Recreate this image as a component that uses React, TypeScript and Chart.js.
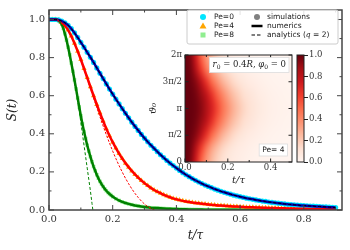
import React, { useEffect, useRef } from 'react';
import { Chart, registerables } from 'chart.js';

Chart.register(...registerables);

// ---------- main panel data ----------
const T = [0,0.01,0.02,0.03,0.04,0.05,0.06,0.07,0.08,0.09,0.1,0.11,0.12,0.13,0.14,0.15,0.16,0.17,0.18,0.19,0.2,0.21,0.22,0.23,0.24,0.25,0.26,0.27,0.28,0.29,0.3,0.31,0.32,0.33,0.34,0.35,0.36,0.37,0.38,0.39,0.4,0.41,0.42,0.43,0.44,0.45,0.46,0.47,0.48,0.49,0.5,0.51,0.52,0.53,0.54,0.55,0.56,0.57,0.58,0.59,0.6,0.61,0.62,0.63,0.64,0.65,0.66,0.67,0.68,0.69,0.7,0.71,0.72,0.73,0.74,0.75,0.76,0.77,0.78,0.79,0.8,0.81,0.82,0.83,0.84,0.85,0.86,0.87,0.88,0.89,0.9];

const PE0 = [1,1,1,0.998,0.992,0.983,0.97,0.952,0.93,0.906,
  0.88,0.855,0.828,0.802,0.775,0.746,0.718,0.69,0.662,0.635,
  0.608,0.582,0.557,0.532,0.508,0.484,0.461,0.439,0.418,0.397,
  0.377,0.358,0.34,0.323,0.306,0.29,0.275,0.26,0.246,0.233,
  0.22,0.208,0.196,0.185,0.175,0.165,0.156,0.147,0.139,0.131,
  0.124,0.117,0.11,0.104,0.098,0.093,0.088,0.083,0.078,0.074,
  0.07,0.066,0.062,0.059,0.056,0.053,0.05,0.047,0.045,0.042,
  0.04,0.038,0.036,0.034,0.032,0.03,0.029,0.027,0.026,0.024,
  0.023,0.022,0.021,0.02,0.019,0.018,0.017,0.016,0.015,0.014,
  0.013];

const PE4 = [1,1,1,0.996,0.985,0.968,0.945,0.913,0.875,0.834,
  0.79,0.743,0.695,0.647,0.6,0.554,0.51,0.467,0.427,0.39,
  0.356,0.325,0.296,0.27,0.246,0.225,0.205,0.187,0.17,0.155,
  0.141,0.128,0.116,0.105,0.096,0.088,0.08,0.073,0.067,0.061,
  0.056,0.052,0.048,0.045,0.042,0.039,0.037,0.035,0.033,0.031,
  0.029,0.027,0.026,0.024,0.023,0.022,0.021,0.02,0.019,0.018,
  0.017,0.016,0.015,0.0145,0.014,0.013,0.0125,0.012,0.0115,0.011,
  0.0105,0.01,0.0095,0.009,0.0086,0.0082,0.0078,0.0074,0.007,0.0067,
  0.0064,0.0061,0.0058,0.0055,0.0052,0.005,0.0048,0.0046,0.0044,0.0042,
  0.004];

const T8 = [0,0.005,0.01,0.015,0.02,0.025,0.03,0.035,0.04,0.045,0.05,0.055,0.06,0.065,0.07,0.075,0.08,0.085,0.09,0.095,0.1,0.105,0.11,0.115,0.12,0.125,0.13,0.135,0.14,0.145,0.15,0.155,0.16,0.165,0.17,0.175,0.18,0.185,0.19,0.195,0.2,
  0.21,0.22,0.23,0.24,0.25,0.26,0.27,0.28,0.29,0.3,0.31,0.32,0.33,0.34,0.35,0.36,0.37,0.38,0.39,0.4,0.41,0.42,0.43,0.44,0.45,0.46,0.47,0.48,0.49,0.5,0.51,0.52,0.53,0.54,0.55,0.56,0.57,0.58,0.59,0.6,0.61,0.62,0.63,0.64,0.65,0.66,0.67,0.68,0.69,0.7,0.71,0.72,0.73,0.74,0.75,0.76,0.77,0.78,0.79,0.8,0.81,0.82,0.83,0.84,0.85,0.86,0.87,0.88,0.89,0.9];

const PE8 = [1,1,1,1,1,0.999,0.995,0.987,0.975,0.954,0.925,0.892,0.855,0.815,0.772,0.728,0.683,0.636,0.588,0.541,0.495,0.452,0.412,0.375,0.34,0.309,0.28,0.253,0.228,0.206,0.185,0.167,0.15,0.136,0.123,0.111,0.101,0.092,0.084,0.077,0.07,
  0.059,0.05,0.043,0.037,0.032,0.028,0.024,0.021,0.018,0.016,
  0.014,0.012,0.011,0.01,0.009,0.008,0.007,0.0063,0.0056,0.005,
  0.0045,0.004,0.0036,0.0032,0.0029,0.0026,0.0023,0.0021,0.0019,0.0017,
  0.0015,0.0014,0.0012,0.0011,0.001,0.0009,0.0008,0.0007,0.0007,0.0006,
  0.0005,0.0005,0.0004,0.0004,0.0004,0.0003,0.0003,0.0003,0.0003,0.0002,
  0.0002,0.0002,0.0002,0.0002,0.0002,0.0002,0.0002,0.0002,0.0002,0.0002,
  0.0001,0.0001,0.0001,0.0001,0.0001,0.0001,0.0001,0.0001,0.0001,0.0001];

// analytics (q = 2): Pe=4 on T[0..34], Pe=8 on T8[0..28]
const DASH4 = [1,1,1,0.996,0.985,0.968,0.944,0.912,0.873,0.831,
  0.786,0.738,0.688,0.638,0.588,0.538,0.489,0.441,0.395,0.351,
  0.309,0.27,0.233,0.199,0.167,0.138,0.111,0.087,0.066,0.047,
  0.031,0.018,0.008,0.001,-0.005];
const DASH8 = [1,1,1,1,1,0.999,0.995,0.987,0.975,0.954,0.925,0.891,0.853,0.812,0.768,0.722,0.674,0.624,0.573,0.518,0.46,0.4,0.34,0.28,0.22,0.16,0.1,0.035,-0.03];

const X_TICKS = [0, 0.2, 0.4, 0.6, 0.8];
const X_MINOR = [0.1, 0.3, 0.5, 0.7, 0.9];
const Y_TICKS = [0, 0.2, 0.4, 0.6, 0.8, 1.0];
const Y_MINOR = [0.1, 0.3, 0.5, 0.7, 0.9];

const LEGEND_PE = ['Pe=0', 'Pe=4', 'Pe=8'];
const LEGEND_KIND = ['simulations', 'numerics', 'analytics ('];

// ---------- inset heat map data ----------
const HEAT_T = [0,0.025,0.05,0.075,0.1,0.125,0.15,0.175,0.2,0.225,0.25,0.275,0.3,0.325,0.35,0.375,0.4,0.425,0.45,0.475,0.5];
const HEAT_0   = [1.0,0.95,0.74,0.52,0.36,0.25,0.17,0.12,0.085,0.06,0.045,0.033,0.024,0.018,0.013,0.01,0.007,0.005,0.004,0.003,0.002];
const HEAT_PI4 = [1.0,0.97,0.82,0.62,0.45,0.32,0.23,0.16,0.115,0.08,0.06,0.045,0.033,0.025,0.018,0.013,0.01,0.008,0.006,0.004,0.003];
const HEAT_PI2 = [1.0,0.99,0.93,0.80,0.65,0.50,0.38,0.28,0.21,0.15,0.11,0.08,0.06,0.045,0.033,0.025,0.018,0.013,0.01,0.008,0.006];
const HEAT_3PI4= [1.0,1.0,0.97,0.90,0.79,0.66,0.53,0.42,0.32,0.24,0.18,0.13,0.10,0.075,0.055,0.04,0.03,0.022,0.016,0.012,0.009];
const HEAT_PI  = [1.0,1.0,0.98,0.93,0.84,0.72,0.60,0.48,0.38,0.29,0.22,0.16,0.12,0.09,0.065,0.05,0.035,0.027,0.02,0.015,0.01];
const HEAT_ROWS = [HEAT_0, HEAT_PI4, HEAT_PI2, HEAT_3PI4, HEAT_PI, HEAT_3PI4, HEAT_PI2, HEAT_PI4, HEAT_0];
const PI = Math.PI;
const HEAT_THETA = [0, PI/4, PI/2, 3*PI/4, PI, 5*PI/4, 3*PI/2, 7*PI/4, 2*PI];
const INSET_X_TICKS = [0, 0.2, 0.4];
const INSET_X_MINOR = [0.1, 0.3];
const INSET_Y_TICKS = [0, PI/2, PI, 3*PI/2, 2*PI];
const INSET_Y_LABELS = ['0', 'π/2', 'π', '3π/2', '2π'];
const CB_TICKS = [0, 0.2, 0.4, 0.6, 0.8, 1.0];

const REDS = [[255,245,240],[254,224,210],[252,187,161],[252,146,114],[251,106,74],[239,59,44],[203,24,29],[165,15,21],[103,0,13]];
function reds(v: number): number[] {
  const x = Math.min(1, Math.max(0, v)) * (REDS.length - 1);
  const i = Math.min(REDS.length - 2, Math.floor(x));
  const f = x - i;
  const a = REDS[i], b = REDS[i + 1];
  return [0, 1, 2].map(k => Math.round(a[k] + (b[k] - a[k]) * f));
}

const pts = (xs: number[], ys: number[]) => ys.map((y, i) => ({ x: xs[i], y }));

function framePlugin(id: string, cfg: any) {
  return {
    id,
    afterDatasetsDraw(chart: any) {
      const { ctx, chartArea: ca, scales } = chart;
      const xs = scales.x, ys = scales.y;
      ctx.save();
      ctx.strokeStyle = cfg.color;
      ctx.lineWidth = 1;
      ctx.beginPath();
      const vx = (vals: number[], len: number) => {
        for (const v of vals) {
          const p = xs.getPixelForValue(v);
          ctx.moveTo(p, ca.bottom); ctx.lineTo(p, ca.bottom - len);
          ctx.moveTo(p, ca.top); ctx.lineTo(p, ca.top + len);
        }
      };
      const vy = (vals: number[], len: number) => {
        for (const v of vals) {
          const p = ys.getPixelForValue(v);
          ctx.moveTo(ca.left, p); ctx.lineTo(ca.left + len, p);
          ctx.moveTo(ca.right, p); ctx.lineTo(ca.right - len, p);
        }
      };
      vx(cfg.xMajor, cfg.major); vx(cfg.xMinor, cfg.minor);
      vy(cfg.yMajor, cfg.major); vy(cfg.yMinor, cfg.minor);
      ctx.stroke();
      ctx.lineWidth = cfg.border;
      ctx.strokeRect(ca.left, ca.top, ca.right - ca.left, ca.bottom - ca.top);
      ctx.restore();
    },
  };
}

const legendPlugin = {
  id: 'legendBox',
  afterDraw(chart: any) {
    const ctx = chart.ctx;
    ctx.save();
    const bx = 187, by = 10, bw = 151, bh = 34, r = 2;
    ctx.beginPath();
    ctx.moveTo(bx + r, by); ctx.lineTo(bx + bw - r, by); ctx.quadraticCurveTo(bx + bw, by, bx + bw, by + r);
    ctx.lineTo(bx + bw, by + bh - r); ctx.quadraticCurveTo(bx + bw, by + bh, bx + bw - r, by + bh);
    ctx.lineTo(bx + r, by + bh); ctx.quadraticCurveTo(bx, by + bh, bx, by + bh - r);
    ctx.lineTo(bx, by + r); ctx.quadraticCurveTo(bx, by, bx + r, by);
    ctx.closePath();
    ctx.fillStyle = 'rgba(255,255,255,0.85)';
    ctx.fill();
    ctx.strokeStyle = '#cccccc'; ctx.lineWidth = 1; ctx.stroke();
    const rows = [17, 26, 35];
    ctx.fillStyle = '#00e5ff';
    ctx.beginPath(); ctx.arc(203, rows[0], 3, 0, 2 * Math.PI); ctx.fill();
    ctx.fillStyle = '#ffa500';
    ctx.beginPath(); ctx.moveTo(203, rows[1] - 3.5); ctx.lineTo(206.5, rows[1] + 2.5); ctx.lineTo(199.5, rows[1] + 2.5); ctx.closePath(); ctx.fill();
    ctx.fillStyle = '#90ee90';
    ctx.fillRect(200.5, rows[2] - 2.5, 5, 5);
    ctx.fillStyle = '#808080';
    ctx.beginPath(); ctx.arc(257, rows[0], 3, 0, 2 * Math.PI); ctx.fill();
    ctx.strokeStyle = '#000'; ctx.lineWidth = 2.5;
    ctx.beginPath(); ctx.moveTo(251.5, rows[1]); ctx.lineTo(262.5, rows[1]); ctx.stroke();
    ctx.lineWidth = 1.2; ctx.setLineDash([3.5, 2]);
    ctx.beginPath(); ctx.moveTo(251.5, rows[2]); ctx.lineTo(262.5, rows[2]); ctx.stroke();
    ctx.setLineDash([]);
    ctx.fillStyle = '#222';
    ctx.textBaseline = 'middle';
    ctx.textAlign = 'left';
    const sans = '7.5px "DejaVu Sans"';
    ctx.font = sans;
    LEGEND_PE.forEach((t, i) => ctx.fillText(t, 214, rows[i]));
    ctx.fillText(LEGEND_KIND[0], 267, rows[0]);
    ctx.fillText(LEGEND_KIND[1], 267, rows[1]);
    let x = 267;
    ctx.fillText(LEGEND_KIND[2], x, rows[2]);
    x += ctx.measureText(LEGEND_KIND[2]).width;
    ctx.font = 'italic 7.5px "DejaVu Serif"';
    ctx.fillText('q', x, rows[2]);
    x += ctx.measureText('q').width;
    ctx.font = sans;
    ctx.fillText(' = 2)', x, rows[2]);
    ctx.restore();
  },
};

const heatPlugin = {
  id: 'heat',
  beforeDatasetsDraw(chart: any) {
    const { ctx, chartArea: ca, scales } = chart;
    const nx = HEAT_T.length, ny = HEAT_THETA.length;
    const off = document.createElement('canvas');
    off.width = nx; off.height = ny;
    const octx = off.getContext('2d')!;
    const img = octx.createImageData(nx, ny);
    for (let j = 0; j < ny; j++) {
      const row = HEAT_ROWS[j];
      const iy = ny - 1 - j;
      for (let i = 0; i < nx; i++) {
        const c = reds(row[i]);
        const k = (iy * nx + i) * 4;
        img.data[k] = c[0]; img.data[k + 1] = c[1]; img.data[k + 2] = c[2]; img.data[k + 3] = 255;
      }
    }
    octx.putImageData(img, 0, 0);
    const dx = (HEAT_T[1] - HEAT_T[0]) / 2;
    const dy = (HEAT_THETA[1] - HEAT_THETA[0]) / 2;
    const x0 = scales.x.getPixelForValue(HEAT_T[0] - dx);
    const x1 = scales.x.getPixelForValue(HEAT_T[nx - 1] + dx);
    const y0 = scales.y.getPixelForValue(HEAT_THETA[ny - 1] + dy);
    const y1 = scales.y.getPixelForValue(HEAT_THETA[0] - dy);
    ctx.save();
    ctx.beginPath(); ctx.rect(ca.left, ca.top, ca.right - ca.left, ca.bottom - ca.top); ctx.clip();
    ctx.imageSmoothingEnabled = true;
    (ctx as any).imageSmoothingQuality = 'high';
    ctx.drawImage(off, x0, y0, x1 - x0, y1 - y0);
    ctx.restore();
  },
  afterDraw(chart: any) {
    const { ctx, chartArea: ca } = chart;
    ctx.save();
    const segs = [
      { t: 'r', f: 'italic 8.5px "DejaVu Serif"', dy: 0 },
      { t: '0', f: '6px "DejaVu Serif"', dy: 2 },
      { t: ' = 0.4', f: '8.5px "DejaVu Serif"', dy: 0 },
      { t: 'R', f: 'italic 8.5px "DejaVu Serif"', dy: 0 },
      { t: ', ', f: '8.5px "DejaVu Serif"', dy: 0 },
      { t: 'φ', f: 'italic 8.5px "DejaVu Serif"', dy: 0 },
      { t: '0', f: '6px "DejaVu Serif"', dy: 2 },
      { t: ' = 0', f: '8.5px "DejaVu Serif"', dy: 0 },
    ];
    let tw = 0;
    for (const s of segs) { ctx.font = s.f; tw += ctx.measureText(s.t).width; }
    const bw = tw + 6, bh = 15;
    const bx = ca.right - 3 - bw, by = ca.top + 2.5;
    ctx.fillStyle = '#fff';
    ctx.fillRect(bx, by, bw, bh);
    ctx.strokeStyle = '#dddddd'; ctx.lineWidth = 0.8; ctx.strokeRect(bx, by, bw, bh);
    ctx.fillStyle = '#222'; ctx.textBaseline = 'middle'; ctx.textAlign = 'left';
    let x = bx + 3;
    for (const s of segs) { ctx.font = s.f; ctx.fillText(s.t, x, by + bh / 2 + s.dy); x += ctx.measureText(s.t).width; }
    ctx.font = '7.5px "DejaVu Sans"';
    const txt = 'Pe= 4';
    const w2 = ctx.measureText(txt).width + 6, h2 = 12;
    const x2 = ca.right - 4.5 - w2, y2 = ca.bottom - 6 - h2;
    ctx.fillStyle = '#fff'; ctx.fillRect(x2, y2, w2, h2);
    ctx.strokeStyle = '#dddddd'; ctx.strokeRect(x2, y2, w2, h2);
    ctx.fillStyle = '#222';
    ctx.fillText(txt, x2 + 3, y2 + h2 / 2);
    ctx.restore();
  },
};

const cbPlugin = {
  id: 'cbar',
  beforeDatasetsDraw(chart: any) {
    const { ctx, chartArea: ca, scales } = chart;
    ctx.save();
    for (let py = Math.floor(ca.top); py < ca.bottom; py++) {
      const v = scales.y.getValueForPixel(py + 0.5);
      const c = reds(v);
      ctx.fillStyle = `rgb(${c[0]},${c[1]},${c[2]})`;
      ctx.fillRect(ca.left, py, ca.right - ca.left, 1);
    }
    ctx.strokeStyle = '#222'; ctx.lineWidth = 1;
    ctx.strokeRect(ca.left, ca.top, ca.right - ca.left, ca.bottom - ca.top);
    ctx.restore();
  },
};

const serif = 'DejaVu Serif';

export default function App() {
  const mainRef = useRef<HTMLCanvasElement>(null);
  const insetRef = useRef<HTMLCanvasElement>(null);
  const cbRef = useRef<HTMLCanvasElement>(null);

  useEffect(() => {
    document.body.style.margin = '0';
    const charts: Chart[] = [];
    const line = (data: any, color: string, width: number, dash: number[], order: number) => ({
      data, borderColor: color, borderWidth: width, borderDash: dash, showLine: true,
      pointRadius: 0, order, clip: 0, borderJoinStyle: 'round',
    });
    const sim = (data: any, color: string, style: string, r: number) => ({
      data, backgroundColor: color, borderWidth: 0, pointBorderWidth: 0, pointStyle: style,
      pointRadius: r, showLine: false, order: 2,
    });

    charts.push(new Chart(mainRef.current!, {
      type: 'scatter',
      data: {
        datasets: [
          line(pts(T, PE0), '#000000', 1, [3, 2], 0),
          line(pts(T.slice(0, DASH4.length), DASH4), '#ff0000', 1, [2.5, 1.5], 0),
          line(pts(T8.slice(0, DASH8.length), DASH8), '#008000', 1, [3, 2], 0),
          line(pts(T, PE0), '#0000b0', 2.5, [], 1),
          line(pts(T, PE4), '#ff0000', 2.5, [], 1),
          line(pts(T8, PE8), '#008000', 2.5, [], 1),
          sim(pts(T, PE0), '#00e5ff', 'circle', 2.6),
          sim(pts(T, PE4), '#ffa500', 'triangle', 3),
          sim(pts(T8, PE8), '#90ee90', 'rect', 2.5),
        ] as any,
      },
      options: {
        animation: false,
        responsive: false,
        devicePixelRatio: 1,
        layout: { padding: { top: 4, right: 8, left: 0, bottom: 0 } },
        plugins: { legend: { display: false }, tooltip: { enabled: false } },
        scales: {
          x: {
            type: 'linear', min: 0, max: 0.92,
            grid: { display: false, drawTicks: false }, border: { display: false },
            afterBuildTicks: (s: any) => { s.ticks = X_TICKS.map(v => ({ value: v })); },
            ticks: { callback: (v: any) => Number(v).toFixed(1), font: { family: serif, size: 10 }, color: '#333', padding: 3, maxRotation: 0, autoSkip: false },
            title: { display: true, text: 't/τ', font: { family: serif, size: 12, style: 'italic' }, color: '#222', padding: { top: 0, bottom: 7 } },
            afterFit: (s: any) => { s.height = 40; },
          },
          y: {
            type: 'linear', min: 0, max: 1.05,
            grid: { display: false, drawTicks: false }, border: { display: false },
            afterBuildTicks: (s: any) => { s.ticks = Y_TICKS.map(v => ({ value: v })); },
            ticks: { callback: (v: any) => Number(v).toFixed(1), font: { family: serif, size: 10 }, color: '#333', padding: 4, autoSkip: false },
            title: { display: true, text: 'S(t)', font: { family: serif, size: 12, style: 'italic' }, color: '#222', padding: { top: 6, bottom: 0 } },
            afterFit: (s: any) => { s.width = 49; },
          },
        },
      } as any,
      plugins: [framePlugin('mainFrame', { color: '#444', major: 5, minor: 2.5, border: 1.5, xMajor: X_TICKS, xMinor: X_MINOR, yMajor: Y_TICKS, yMinor: Y_MINOR }), legendPlugin],
    }));

    charts.push(new Chart(insetRef.current!, {
      type: 'scatter',
      data: { datasets: [] },
      options: {
        animation: false,
        responsive: false,
        devicePixelRatio: 1,
        layout: { padding: { top: 10, right: 8, left: 0, bottom: 0 } },
        plugins: { legend: { display: false }, tooltip: { enabled: false } },
        scales: {
          x: {
            type: 'linear', min: 0, max: 0.5,
            grid: { display: false, drawTicks: false }, border: { display: false },
            afterBuildTicks: (s: any) => { s.ticks = INSET_X_TICKS.map(v => ({ value: v })); },
            ticks: { callback: (v: any) => Number(v).toFixed(1), font: { family: serif, size: 8.5 }, color: '#333', padding: 1, maxRotation: 0, autoSkip: false },
            title: { display: true, text: 't/τ', font: { family: serif, size: 10, style: 'italic' }, color: '#222', padding: { top: 0, bottom: 4 } },
            afterFit: (s: any) => { s.height = 28; },
          },
          y: {
            type: 'linear', min: 0, max: 2 * PI,
            grid: { display: false, drawTicks: false }, border: { display: false },
            afterBuildTicks: (s: any) => { s.ticks = INSET_Y_TICKS.map(v => ({ value: v })); },
            ticks: { callback: (_v: any, i: number) => INSET_Y_LABELS[i], font: { family: serif, size: 8.5 }, color: '#333', padding: 3, autoSkip: false },
            title: { display: true, text: 'ϑ₀', font: { family: serif, size: 10, style: 'italic' }, color: '#222', padding: { top: 7, bottom: 0 } },
            afterFit: (s: any) => { s.width = 45; },
          },
        },
      } as any,
      plugins: [heatPlugin, framePlugin('insetFrame', { color: '#222', major: 3.5, minor: 2, border: 1, xMajor: INSET_X_TICKS, xMinor: INSET_X_MINOR, yMajor: INSET_Y_TICKS, yMinor: [] })],
    }));

    charts.push(new Chart(cbRef.current!, {
      type: 'scatter',
      data: { datasets: [] },
      options: {
        animation: false,
        responsive: false,
        devicePixelRatio: 1,
        layout: { padding: { top: 10, right: 0, left: 7, bottom: 28 } },
        plugins: { legend: { display: false }, tooltip: { enabled: false } },
        scales: {
          x: { type: 'linear', display: false, min: 0, max: 1 },
          y: {
            type: 'linear', position: 'right', min: 0, max: 1,
            grid: { display: true, drawOnChartArea: false, drawTicks: true, tickLength: 4, color: '#222', lineWidth: 1 },
            border: { display: false },
            afterBuildTicks: (s: any) => { s.ticks = CB_TICKS.map(v => ({ value: v })); },
            ticks: { callback: (v: any) => Number(v).toFixed(1), font: { family: serif, size: 8.5 }, color: '#333', padding: 1, autoSkip: false },
            afterFit: (s: any) => { s.width = 46; },
          },
        },
      } as any,
      plugins: [cbPlugin],
    }));

    return () => charts.forEach(c => c.destroy());
  }, []);

  return (
    <div style={{ position: 'relative', width: 350, height: 250, background: '#fff' }}>
      <canvas ref={mainRef} width={350} height={250} style={{ position: 'absolute', left: 0, top: 0, width: 350, height: 250 }} />
      <canvas ref={insetRef} width={160} height={145} style={{ position: 'absolute', left: 140, top: 45, width: 160, height: 145 }} />
      <canvas ref={cbRef} width={60} height={145} style={{ position: 'absolute', left: 290, top: 45, width: 60, height: 145 }} />
    </div>
  );
}
